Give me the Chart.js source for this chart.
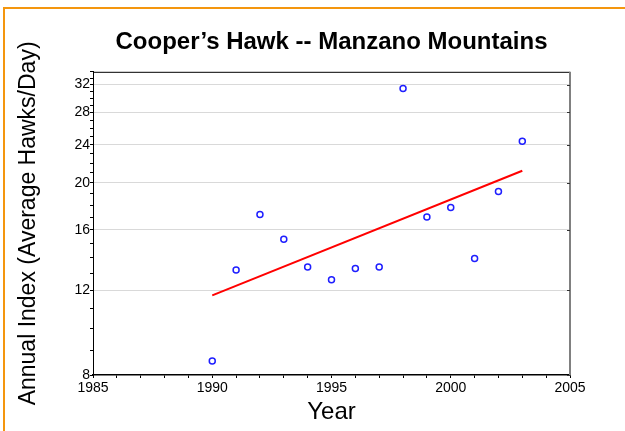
<!DOCTYPE html>
<html>
<head>
<meta charset="utf-8">
<script src="https://cdn.jsdelivr.net/npm/chart.js@4.4.1/dist/chart.umd.min.js"></script>
<style>
  body { margin: 0; background: #fff; }
  #wrap { position: relative; width: 625px; height: 431px; overflow: hidden; }
  #frame {
    position: absolute; left: 3px; top: 7px; right: -10px; bottom: -10px;
    border-left: 2px solid #f4960e; border-top: 2px solid #f4960e;
  }
  #chart { position: absolute; left: 0; top: 0; }
</style>
</head>
<body>
<div id="wrap">
  <div id="frame"></div>
  <canvas id="chart" width="625" height="431"></canvas>
</div>
<script>
const years = [1990, 1991, 1992, 1993, 1994, 1995, 1996, 1997, 1998, 1999, 2000, 2001, 2002, 2003];
const hawksPerDay = [8.55, 13.2, 17.2, 15.3, 13.4, 12.6, 13.3, 13.4, 31.4, 17.0, 17.8, 13.95, 19.2, 24.4];
const trendYears = [1990, 2003];
const trendValues = [11.7, 21.2];
const yTickLabels = [8, 12, 16, 20, 24, 28, 32];
const xTickLabels = [1985, 1990, 1995, 2000, 2005];

const FONT = "'Liberation Sans', Arial, sans-serif";

// minor ticks: every whole hawk/day and every year
const yMinorTicks = [];
for (let v = 8; v <= 34; v++) yMinorTicks.push(v);

const framePlugin = {
    id: 'frame',
    afterDraw(chart) {
        const { ctx, chartArea: a } = chart;
        const y = chart.scales.y;
        ctx.save();
        ctx.strokeStyle = '#000';
        ctx.lineWidth = 1;
        ctx.beginPath();
        ctx.moveTo(a.left, a.top + 0.5);
        ctx.lineTo(a.right, a.top + 0.5);
        ctx.stroke();
        ctx.strokeStyle = '#808080';
        ctx.lineWidth = 2;
        ctx.beginPath();
        ctx.moveTo(a.right, a.top);
        ctx.lineTo(a.right, a.bottom);
        ctx.stroke();
        ctx.strokeStyle = '#333';
        ctx.lineWidth = 1;
        yTickLabels.forEach(v => {
            const py = Math.round(y.getPixelForValue(v)) + 0.5;
            ctx.beginPath();
            ctx.moveTo(a.right - 3, py);
            ctx.lineTo(a.right, py);
            ctx.stroke();
        });
        ctx.restore();
    }
};

const ctx = document.getElementById('chart').getContext('2d');
const hawkChart = new Chart(ctx, {
    type: 'scatter',
    data: {
        datasets: [{
            label: 'Annual index',
            data: years.map((yr, i) => ({ x: yr, y: hawksPerDay[i] })),
            borderColor: '#1f1fff',
            backgroundColor: 'rgba(0,0,0,0)',
            borderWidth: 1.5,
            pointRadius: 3,
            order: 1
        }, {
            label: 'Trend',
            type: 'line',
            data: trendYears.map((yr, i) => ({ x: yr, y: trendValues[i] })),
            borderColor: '#ff0000',
            borderWidth: 2,
            pointRadius: 0,
            fill: false,
            order: 2
        }]
    },
    options: {
        responsive: false,
        animation: false,
        devicePixelRatio: 1,
        layout: { padding: { left: 0, right: 55, top: 0, bottom: 0 } },
        plugins: {
            legend: { display: false },
            tooltip: { enabled: false },
            title: {
                display: true,
                fullSize: false,
                text: 'Cooper\u2019s Hawk -- Manzano Mountains',
                color: '#000',
                font: { family: FONT, size: 24, weight: 'bold' },
                padding: { top: 28, bottom: 15 }
            }
        },
        scales: {
            x: {
                type: 'linear',
                min: 1985,
                max: 2005,
                afterBuildTicks: scale => {
                    const t = [];
                    for (let v = 1985; v <= 2005; v++) t.push({ value: v });
                    scale.ticks = t;
                },
                afterFit: scale => { scale.height = 56; },
                ticks: {
                    autoSkip: false,
                    maxRotation: 0,
                    padding: 2,
                    color: '#000',
                    font: { family: FONT, size: 14 },
                    callback: v => xTickLabels.includes(v) ? String(v) : ''
                },
                grid: {
                    drawOnChartArea: false,
                    color: '#000',
                    tickColor: '#000',
                    tickLength: 3
                },
                border: { color: '#000', width: 1.5 },
                title: {
                    display: true,
                    text: 'Year',
                    color: '#000',
                    font: { family: FONT, size: 24 },
                    padding: { top: 0, bottom: 4 }
                }
            },
            y: {
                type: 'logarithmic',
                min: 8,
                max: 34,
                afterBuildTicks: scale => {
                    scale.ticks = yMinorTicks.map(v => ({ value: v }));
                },
                afterFit: scale => { scale.width = 93; },
                ticks: {
                    autoSkip: false,
                    padding: 0,
                    color: '#000',
                    font: { family: FONT, size: 14 },
                    callback: v => yTickLabels.includes(v) ? String(v) : ''
                },
                grid: {
                    color: c => (c.tick && yTickLabels.includes(c.tick.value) && c.tick.value !== 8) ? '#d9d9d9' : 'rgba(0,0,0,0)',
                    tickColor: '#000',
                    tickLength: 3
                },
                border: { color: '#000', width: 1 },
                title: {
                    display: true,
                    text: 'Annual Index (Average Hawks/Day)',
                    color: '#000',
                    font: { family: FONT, size: 23 },
                    padding: { top: 15, bottom: 0 }
                }
            }
        }
    },
    plugins: [framePlugin]
});
</script>
</body>
</html>
